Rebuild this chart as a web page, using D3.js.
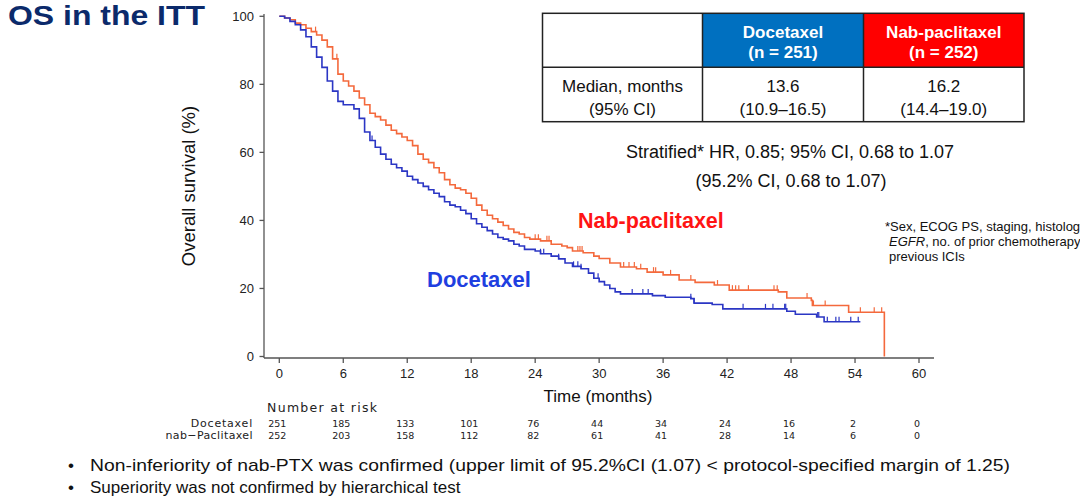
<!DOCTYPE html>
<html><head><meta charset="utf-8">
<script src="https://cdn.jsdelivr.net/npm/d3@7/dist/d3.min.js"></script>
<style>
body{margin:0;background:#fff;}
svg{display:block;font-family:"Liberation Sans",Arial,sans-serif;}
</style></head><body>
<svg id="c" width="1080" height="498"></svg>
<script>
// ---- data ----
const xTicks = [0,6,12,18,24,30,36,42,48,54,60];
const yTicks = [0,20,40,60,80,100];
// Kaplan-Meier steps (months, % surviving)
const nabTime = [0,0.5,1.0,1.5,2.0,2.5,3.0,3.5,4.0,4.5,5.0,5.5,6.0,6.5,7.0,7.5,8.0,8.5,9.0,9.5,10.0,10.5,11.0,11.5,12.0,12.5,13.0,13.5,14.0,14.5,15.0,15.5,16.0,16.5,17.0,17.5,18.0,18.5,19.0,19.5,20.0,20.5,21.0,21.5,22.0,22.5,23.0,23.5,24.5,25.5,26.5,27.0,27.5,28.5,29.5,30.0,31.0,32.0,33.5,34.5,36.0,37.5,39.0,40.8,42.2,46.8,47.6,49.9,50.0,53.4,56.75];
const nabSurv = [100,99.5,99,98,97.5,96.5,95.5,94.5,93,91,87.5,83,81,79.5,78,76,74,71.5,70.5,69.5,68,66.5,65.5,64.5,63.5,62,59.5,58,57,55.5,54,52,50.5,49.5,49,48,46.5,44.5,43,41.5,40.5,39.5,38.5,37.5,36.5,36,35,34.5,34,33,32.5,32,31,30.5,29.5,28.8,27.5,26.3,25.8,24.8,24,22.5,21.8,21,19.5,19,17.2,16.5,15,13,0];
const docTime = [0,0.5,1.0,1.5,2.0,2.5,3.0,3.5,4.0,4.5,5.0,5.5,6.0,7.0,7.5,8.0,8.5,9.0,9.5,10.0,10.5,11.0,11.5,12.0,12.5,13.0,13.5,14.0,14.5,15.0,15.5,16.0,16.5,17.0,17.5,18.0,18.5,19.0,19.5,20.0,20.5,21.0,21.5,22.0,22.5,23.0,24.0,24.5,25.5,26.2,26.8,27.5,28.3,29.0,29.5,30.0,30.5,31.0,31.5,32.0,35.0,36.2,38.6,38.9,40.6,41.6,47.6,48.4,50.4,51.1,54.5];
const docSurv = [100,99.5,98.5,97.5,96,94,91,88,85,81,78,75,74,72.8,70,66,63.5,61.5,59.5,58,56.5,55.5,54.5,53,52,51,50,49,48,47,45.5,44.5,44,43,42,40.5,39,38,37,36,35,34.5,34,33,32.5,31.5,31,30.2,29.5,28.7,27.5,26.5,25.8,24.5,23,22,21,20,19,18.4,17.9,17.4,17.0,15.7,15.3,14,13.3,12.4,11.6,10.2,10.2];
const nabCensor = [3.4,5.4,24.0,24.3,25.1,25.3,28.0,28.2,28.4,32.3,32.8,33.3,33.9,35.1,35.3,36.7,38.6,41.1,42.5,42.8,43.1,44.0,46.4,46.7,49.5,50.1,51.2,54.5,55.8,56.5];
const docCensor = [8.7,24.5,24.8,26.2,27.6,28.0,28.3,29.9,33.1,34.1,34.6,38.6,38.9,43.5,45.6,46.3,47.4,47.5,50.5,50.6,51.4,52.2,52.5,53.6,54.3];
const riskTimes = [0,6,12,18,24,30,36,42,48,54,60];
const riskDoc = [251,185,133,101,76,44,34,24,16,2,0];
const riskNab = [252,203,158,112,82,61,41,28,14,6,0];
const tableHead = ["Docetaxel","Nab-paclitaxel"];
const tableN = ["(n = 251)","(n = 252)"];
const tableMedian = ["13.6","16.2"];
const tableCI = ["(10.9–16.5)","(14.4–19.0)"];

// ---- drawing ----
const svg = d3.select("#c");
const x = d3.scaleLinear().domain([0,60]).range([279.3,919]);
const y = d3.scaleLinear().domain([0,100]).range([356.5,16.3]);
const ORANGE = "#f4693c", BLUE = "#2b36c4";

// title
svg.append("text").attr("x",8).attr("y",25).attr("font-size",27).attr("font-weight","bold")
  .attr("fill","#0b2a6b").attr("textLength",197).attr("lengthAdjust","spacingAndGlyphs").text("OS in the ITT");

// y axis
const axCol = "#555";
svg.append("line").attr("x1",264).attr("x2",264).attr("y1",14).attr("y2",358).attr("stroke",axCol).attr("stroke-width",1.3);
const yg = svg.append("g");
yTicks.forEach(v=>{
  yg.append("line").attr("x1",259.5).attr("x2",264).attr("y1",y(v)).attr("y2",y(v)).attr("stroke",axCol).attr("stroke-width",1.3);
  yg.append("text").attr("x",254).attr("y",y(v)+4.5).attr("text-anchor","end").attr("font-size",13).attr("fill","#222").text(v);
});
svg.append("text").attr("transform","translate(195,186) rotate(-90)").attr("text-anchor","middle")
  .attr("font-size",18.5).attr("fill","#111").text("Overall survival (%)");

// x axis
svg.append("line").attr("x1",264).attr("x2",934).attr("y1",358).attr("y2",358).attr("stroke",axCol).attr("stroke-width",1.3);
xTicks.forEach(v=>{
  svg.append("line").attr("x1",x(v)).attr("x2",x(v)).attr("y1",358).attr("y2",363).attr("stroke",axCol).attr("stroke-width",1.3);
  svg.append("text").attr("x",x(v)).attr("y",378).attr("text-anchor","middle").attr("font-size",13).attr("fill","#222").text(v);
});
svg.append("text").attr("x",598).attr("y",402).attr("text-anchor","middle").attr("font-size",17).attr("fill","#111").text("Time (months)");

// curves
const line = d3.line().x(d=>x(d[0])).y(d=>y(d[1])).curve(d3.curveStepAfter);
const nabData = nabTime.map((t,i)=>[t,nabSurv[i]]);
const docData = docTime.map((t,i)=>[t,docSurv[i]]);
svg.append("path").attr("d",line(nabData)).attr("fill","none").attr("stroke",ORANGE).attr("stroke-width",1.6);
svg.append("path").attr("d",line(docData)).attr("fill","none").attr("stroke",BLUE).attr("stroke-width",1.6);
const bis = d3.bisector(d=>d).right;
function survAt(times, surv, t){ const i = Math.max(0, bis(times,t)-1); return surv[i]; }
nabCensor.forEach(t=>{
  const s = survAt(nabTime,nabSurv,t);
  svg.append("line").attr("x1",x(t)).attr("x2",x(t)).attr("y1",y(s)).attr("y2",y(s)-5).attr("stroke",ORANGE).attr("stroke-width",1.2);
});
docCensor.forEach(t=>{
  const s = survAt(docTime,docSurv,t);
  svg.append("line").attr("x1",x(t)).attr("x2",x(t)).attr("y1",y(s)).attr("y2",y(s)-5).attr("stroke",BLUE).attr("stroke-width",1.2);
});

// curve labels
svg.append("text").attr("x",578).attr("y",228).attr("font-size",21.5).attr("font-weight","bold").attr("fill","#ff1414").text("Nab-paclitaxel");
svg.append("text").attr("x",427).attr("y",287).attr("font-size",22).attr("font-weight","bold").attr("fill","#1f3fe0").text("Docetaxel");

// table
const tx = [542.5,702.5,863.5,1024], ty=[13.3,67.3,121.7];
const tg = svg.append("g");
tg.append("rect").attr("x",tx[1]).attr("y",ty[0]).attr("width",tx[2]-tx[1]).attr("height",ty[1]-ty[0]).attr("fill","#0070c0");
tg.append("rect").attr("x",tx[2]).attr("y",ty[0]).attr("width",tx[3]-tx[2]).attr("height",ty[1]-ty[0]).attr("fill","#ff0000");
tg.append("rect").attr("x",tx[0]).attr("y",ty[0]).attr("width",tx[3]-tx[0]).attr("height",ty[2]-ty[0]).attr("fill","none").attr("stroke","#222").attr("stroke-width",1.5);
tg.append("line").attr("x1",tx[0]).attr("x2",tx[3]).attr("y1",ty[1]).attr("y2",ty[1]).attr("stroke","#222").attr("stroke-width",1.5);
[tx[1],tx[2]].forEach(v=>tg.append("line").attr("x1",v).attr("x2",v).attr("y1",ty[0]).attr("y2",ty[2]).attr("stroke","#222").attr("stroke-width",1.5));
[0,1].forEach(i=>{
  const cx=(tx[i+1]+tx[i+2])/2;
  tg.append("text").attr("x",cx).attr("y",38).attr("text-anchor","middle").attr("font-size",17).attr("font-weight","bold").attr("fill","#fff").text(tableHead[i]);
  tg.append("text").attr("x",cx).attr("y",58).attr("text-anchor","middle").attr("font-size",17).attr("font-weight","bold").attr("fill","#fff").text(tableN[i]);
  tg.append("text").attr("x",cx).attr("y",92).attr("text-anchor","middle").attr("font-size",17).attr("fill","#111").text(tableMedian[i]);
  tg.append("text").attr("x",cx).attr("y",115).attr("text-anchor","middle").attr("font-size",17).attr("fill","#111").text(tableCI[i]);
});
tg.append("text").attr("x",(tx[0]+tx[1])/2).attr("y",92).attr("text-anchor","middle").attr("font-size",17).attr("fill","#111").text("Median, months");
tg.append("text").attr("x",(tx[0]+tx[1])/2).attr("y",115).attr("text-anchor","middle").attr("font-size",17).attr("fill","#111").text("(95% CI)");

// HR text
svg.append("text").attr("x",790).attr("y",158).attr("text-anchor","middle").attr("font-size",18).attr("fill","#111").text("Stratified* HR, 0.85; 95% CI, 0.68 to 1.07");
svg.append("text").attr("x",791).attr("y",187).attr("text-anchor","middle").attr("font-size",18).attr("fill","#111").text("(95.2% CI, 0.68 to 1.07)");

// footnote
const fn = svg.append("g").attr("font-size",13).attr("fill","#111");
fn.append("text").attr("x",885).attr("y",231).text("*Sex, ECOG PS, staging, histology,");
const l2 = fn.append("text").attr("x",889).attr("y",246);
l2.append("tspan").attr("font-style","italic").text("EGFR");
l2.append("tspan").text(", no. of prior chemotherapy,");
fn.append("text").attr("x",889).attr("y",261).text("previous ICIs");

// risk table
svg.append("text").attr("x",267).attr("y",412).attr("font-family","DejaVu Sans").attr("font-size",12.5).attr("fill","#222").attr("textLength",110).text("Number at risk");
svg.append("text").attr("x",253).attr("y",427).attr("text-anchor","end").attr("font-family","DejaVu Sans").attr("font-size",11).attr("fill","#222").attr("letter-spacing",0.8).text("Docetaxel");
svg.append("text").attr("x",253).attr("y",439).attr("text-anchor","end").attr("font-family","DejaVu Sans").attr("font-size",11).attr("fill","#222").attr("letter-spacing",0.4).text("nab−Paclitaxel");
riskTimes.forEach((t,i)=>{
  svg.append("text").attr("x",x(t)-2).attr("y",427).attr("text-anchor","middle").attr("font-family","DejaVu Sans").attr("font-size",9.5).attr("fill","#222").text(riskDoc[i]);
  svg.append("text").attr("x",x(t)-2).attr("y",439).attr("text-anchor","middle").attr("font-family","DejaVu Sans").attr("font-size",9.5).attr("fill","#222").text(riskNab[i]);
});

// bullets
const bl = ["Non-inferiority of nab-PTX was confirmed (upper limit of 95.2%CI (1.07) < protocol-specified margin of 1.25)","Superiority was not confirmed by hierarchical test"];
bl.forEach((s,i)=>{
  svg.append("text").attr("x",68).attr("y",471+i*22).attr("font-size",17).attr("fill","#111").text("•");
  const t = svg.append("text").attr("x",90).attr("y",471+i*22).attr("font-size",17).attr("fill","#111").text(s);
  if(i===0) t.attr("textLength",920).attr("lengthAdjust","spacingAndGlyphs");
});
</script></body></html>
